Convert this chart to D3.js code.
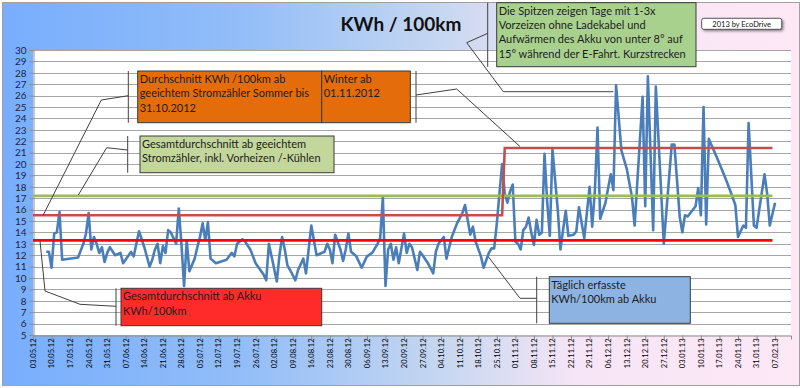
<!DOCTYPE html>
<html>
<head>
<meta charset="utf-8">
<script src="https://cdn.jsdelivr.net/npm/d3@7"></script>
<style>
  body { margin: 0; background: #fff; }
  svg { display: block; }
  text { font-family: Lato, "Noto Sans", sans-serif; }
</style>
</head>
<body>
<svg id="chart" width="800" height="388"></svg>
<script>
// ---- Daten ----
const tickLabels = [
  '03.05.12','10.05.12','17.05.12','24.05.12','31.05.12','07.06.12','14.06.12','21.06.12',
  '28.06.12','05.07.12','12.07.12','19.07.12','26.07.12','02.08.12','09.08.12','16.08.12',
  '23.08.12','30.08.12','06.09.12','13.09.12','20.09.12','27.09.12','04.10.12','11.10.12',
  '18.10.12','25.10.12','01.11.12','08.11.12','15.11.12','22.11.12','29.11.12','06.12.12',
  '13.12.12','20.12.12','27.12.12','03.01.13','10.01.13','17.01.13','24.01.13','31.01.13','07.02.13'
];
const yTicks = [5,6,7,8,9,10,11,12,13,14,15,16,17,18,19,20,21,22,23,24,25,26,27,28,29,30];

// täglich erfasste KWh/100km ab Akku
const dayDates = [
  '08.05.12','09.05.12','10.05.12','11.05.12','12.05.12','13.05.12','14.05.12','20.05.12',
  '22.05.12','23.05.12','24.05.12','25.05.12','26.05.12','27.05.12','28.05.12','29.05.12',
  '30.05.12','31.05.12','01.06.12','03.06.12','05.06.12','06.06.12','09.06.12','10.06.12',
  '12.06.12','14.06.12','16.06.12','17.06.12','18.06.12','19.06.12','20.06.12','21.06.12',
  '22.06.12','23.06.12','24.06.12','26.06.12','27.06.12','28.06.12','29.06.12','30.06.12',
  '01.07.12','03.07.12','04.07.12','05.07.12','06.07.12','07.07.12','08.07.12','09.07.12',
  '11.07.12','15.07.12','17.07.12','18.07.12','19.07.12','21.07.12','22.07.12','24.07.12',
  '26.07.12','29.07.12','30.07.12','31.07.12','01.08.12','03.08.12','04.08.12','05.08.12',
  '06.08.12','07.08.12','08.08.12','10.08.12','11.08.12','13.08.12','14.08.12','16.08.12',
  '17.08.12','18.08.12','21.08.12','22.08.12','23.08.12','24.08.12','25.08.12','27.08.12',
  '28.08.12','29.08.12','30.08.12','31.08.12','02.09.12','04.09.12','06.09.12','08.09.12',
  '10.09.12','11.09.12','12.09.12','13.09.12','14.09.12','15.09.12','16.09.12','17.09.12',
  '18.09.12','20.09.12','21.09.12','22.09.12','23.09.12','24.09.12','25.09.12','26.09.12',
  '27.09.12','29.09.12','01.10.12','02.10.12','03.10.12','05.10.12','06.10.12','08.10.12',
  '10.10.12','12.10.12','13.10.12','15.10.12','16.10.12','17.10.12','19.10.12','20.10.12',
  '22.10.12','23.10.12','24.10.12','25.10.12','26.10.12','27.10.12','28.10.12','29.10.12',
  '30.10.12','31.10.12','01.11.12','02.11.12','03.11.12','04.11.12','05.11.12','06.11.12',
  '07.11.12','08.11.12','09.11.12','10.11.12','11.11.12','12.11.12','13.11.12','14.11.12',
  '15.11.12','16.11.12','17.11.12','18.11.12','20.11.12','21.11.12','23.11.12','24.11.12',
  '25.11.12','27.11.12','29.11.12','30.11.12','01.12.12','02.12.12','03.12.12','05.12.12',
  '06.12.12','07.12.12','08.12.12','09.12.12','11.12.12','13.12.12','15.12.12','16.12.12',
  '19.12.12','20.12.12','21.12.12','23.12.12','24.12.12','27.12.12','30.12.12','31.12.12',
  '02.01.13','03.01.13','04.01.13','05.01.13','08.01.13','09.01.13','10.01.13','11.01.13',
  '12.01.13','13.01.13','16.01.13','19.01.13','21.01.13','23.01.13','24.01.13','26.01.13',
  '27.01.13','28.01.13','30.01.13','31.01.13','03.02.13','04.02.13','05.02.13','07.02.13'
];
const dayValues = [
  12.3,12.3,10.9,13.9,14.0,15.8,11.6,11.8,
  13.0,13.9,15.7,12.5,13.6,13.0,12.2,12.7,
  11.4,12.2,12.7,12.0,12.2,11.3,12.3,11.9,
  14.1,12.7,11.0,11.6,12.5,13.0,11.3,12.8,
  12.2,14.2,14.0,13.0,16.1,13.0,9.3,13.3,
  10.6,11.7,12.7,13.6,14.8,13.3,14.9,11.7,
  11.3,11.6,12.2,11.9,13.0,13.4,13.2,12.5,
  11.3,10.3,9.8,13.0,11.9,9.7,12.0,13.6,
  12.5,11.1,10.7,9.8,10.7,11.7,10.4,14.6,
  13.3,12.0,12.3,13.0,12.5,11.3,13.8,12.5,
  11.5,12.5,13.9,12.3,11.9,10.9,11.9,12.2,
  13.0,13.5,17.1,9.3,12.5,13.0,11.6,12.7,
  11.3,13.9,12.2,13.0,12.7,11.7,10.7,12.3,
  12.0,11.3,10.4,12.3,13.0,13.6,11.7,13.6,
  14.8,15.7,16.4,13.8,14.5,13.2,11.9,10.9,
  12.2,12.6,12.6,14.8,17.4,20.0,17.4,16.6,
  17.6,18.2,13.2,13.0,12.5,14.2,14.5,15.3,
  14.0,12.9,15.1,13.8,14.0,20.9,16.7,13.7,
  21.3,18.6,16.0,12.5,15.9,13.7,13.8,14.1,
  16.2,13.5,18.0,14.5,17.7,23.2,15.2,16.6,
  17.9,19.1,17.7,26.9,21.2,19.6,17.1,14.6,
  25.9,16.3,27.7,14.2,26.8,13.0,21.7,21.7,
  15.4,14.0,15.5,15.4,16.3,17.9,15.5,25.0,
  14.7,22.2,20.6,18.9,17.7,16.4,13.6,14.6,
  14.4,23.6,14.6,14.4,19.1,17.4,14.6,16.6
];

// Durchschnitt ab geeichtem Stromzähler: Sommer / Winter
const seasonDates = ['03.05.12','27.10.12','28.10.12','06.02.13'];
const seasonValues = [15.5, 15.5, 21.4, 21.4];
// Gesamtdurchschnitte
const avgDates = ['03.05.12','06.02.13'];
const avgMeterValues = [17.2, 17.2];
const avgBatteryValues = [13.3, 13.3];
const axisDates = ['03.05.12','13.02.13'];

// ---- Aufbau ----
const W = 800, H = 388;
const P = { left: 33, right: 791, top: 50, bottom: 335 };
const parse = d3.timeParse('%d.%m.%y');
const svg = d3.select('#chart');

const defs = svg.append('defs');
const grad = defs.append('linearGradient').attr('id', 'bg')
  .attr('x1', '0%').attr('y1', '0%').attr('x2', '100%').attr('y2', '0%');
[['0%','#78aefd'],['30%','#92bdf8'],['55%','#c6d7f0'],['72%','#f6e5f6'],['100%','#fde8f6']]
  .forEach(([o, c]) => grad.append('stop').attr('offset', o).attr('stop-color', c));
const sh = defs.append('filter').attr('id', 'shadow').attr('x', '-20%').attr('y', '-20%')
  .attr('width', '150%').attr('height', '170%');
sh.append('feDropShadow').attr('dx', 1.5).attr('dy', 1.5).attr('stdDeviation', 0.8)
  .attr('flood-color', '#000').attr('flood-opacity', 0.45);

svg.append('rect').attr('x', 2.5).attr('y', 2.5).attr('width', 797).attr('height', 383)
  .attr('fill', 'url(#bg)').attr('stroke', '#a0a0a0');
svg.append('rect').attr('x', P.left).attr('y', P.top)
  .attr('width', P.right - P.left).attr('height', P.bottom - P.top).attr('fill', '#fff');

const x = d3.scaleTime().domain(axisDates.map(parse)).range([P.left, P.right]);
const y = d3.scaleLinear().domain([5, 30]).range([P.bottom, P.top]);

// Gitterlinien
svg.append('g').selectAll('line').data(yTicks.slice(1)).join('line')
  .attr('x1', P.left).attr('x2', P.right)
  .attr('y1', d => Math.round(y(d)) + 0.5).attr('y2', d => Math.round(y(d)) + 0.5)
  .attr('stroke', '#a6a6a6').attr('stroke-width', 1);

// Y-Achse
const yAxis = svg.append('g').attr('transform', `translate(${P.left + 0.5},0)`)
  .call(d3.axisLeft(y).tickValues(yTicks).tickSize(4).tickPadding(3).tickFormat(d3.format('d')));
yAxis.select('.domain').attr('stroke', '#8c8c8c');
yAxis.selectAll('.tick line').attr('stroke', '#8c8c8c');
yAxis.selectAll('.tick text').attr('font-size', 10).attr('fill', '#1c2540')
  .attr('font-family', 'Lato, sans-serif');

// X-Achse
const xAxis = svg.append('g').attr('transform', `translate(0,${P.bottom + 0.5})`)
  .call(d3.axisBottom(x).tickValues(tickLabels.map(parse)).tickSize(4)
    .tickFormat(d3.timeFormat('%d.%m.%y')));
xAxis.select('.domain').attr('stroke', '#8c8c8c');
xAxis.selectAll('.tick line').attr('stroke', '#8c8c8c');
xAxis.selectAll('.tick text')
  .attr('font-size', 7.5).attr('fill', '#000').attr('font-family', 'Lato, sans-serif')
  .attr('transform', 'rotate(-90)').attr('text-anchor', 'end')
  .attr('x', -3).attr('y', 0).attr('dy', '0.32em');

// Tageswerte
const line = d3.line().x(d => x(d[0])).y(d => y(d[1]));
svg.append('path')
  .datum(dayDates.map((d, i) => [parse(d), dayValues[i]]))
  .attr('d', line).attr('fill', 'none').attr('stroke', '#4a7ebb')
  .attr('stroke-width', 2.6).attr('stroke-linejoin', 'round');

// Durchschnittslinien
function avgLine(dates, vals, color) {
  svg.append('path')
    .datum(dates.map((d, i) => [parse(d), vals[i]]))
    .attr('d', line).attr('fill', 'none').attr('stroke', color).attr('stroke-width', 2.6);
}
avgLine(avgDates, avgMeterValues, '#9bbb59');
avgLine(seasonDates, seasonValues, '#c0504d');
avgLine(avgDates, avgBatteryValues, '#ff0000');

// ---- Beschriftungen / Legenden-Callouts ----
const notes = [
  { x: 137.7, y: 71, w: 184, h: 51.7, fill: '#e46c0a',
    lines: ['Durchschnitt KWh /100km ab', 'geeichtem Stromzähler Sommer bis', '31.10.2012'],
    bar: 128.3, path: [[128.3, 95.7], [101.3, 100], [43, 215.5]] },
  { x: 321.7, y: 71, w: 88.6, h: 51.7, fill: '#e46c0a',
    lines: ['Winter ab', '01.11.2012'],
    bar: 416, path: [[416, 95], [456.7, 89], [520, 146.5]] },
  { x: 496.7, y: 2.7, w: 199.3, h: 64, fill: '#a9d18e',
    lines: ['Die Spitzen zeigen Tage mit 1-3x', 'Vorzeizen ohne Ladekabel und',
            'Aufwärmen des Akku von unter 8° auf', '15° während der E-Fahrt. Kurzstrecken'],
    bar: 487.7, path: [[487.7, 33.3], [466.7, 42.7], [503.3, 91.7], [613.3, 91.7]] },
  { x: 140, y: 136, w: 194, h: 36.7, fill: '#c3d69b',
    lines: ['Gesamtdurchschnitt ab geeichtem', 'Stromzähler, inkl. Vorheizen /-Kühlen'],
    bar: 127.7, path: [[127.7, 150], [106.7, 147.7], [78.3, 195]] },
  { x: 121, y: 288.3, w: 200.7, h: 37.4, fill: '#ff2b2b',
    lines: ['Gesamtdurchschnitt ab Akku', 'KWh/100km'],
    bar: 116, path: [[116, 306.3], [80, 304.3], [45, 291], [40, 241]] },
  { x: 549.3, y: 276.7, w: 141, h: 46.6, fill: '#8db3e2',
    lines: ['Täglich erfasste', 'KWh/100km ab Akku'],
    bar: 536.7, path: [[536.7, 298.3], [520, 298.3], [488.3, 256.7]] }
];

notes.forEach(n => {
  const g = svg.append('g');
  g.append('line').attr('x1', n.bar).attr('x2', n.bar).attr('y1', n.y).attr('y2', n.y + n.h)
    .attr('stroke', '#404040').attr('stroke-width', 1);
  g.append('path').attr('d', d3.line()(n.path)).attr('fill', 'none')
    .attr('stroke', '#404040').attr('stroke-width', 1);
  g.append('rect').attr('x', n.x).attr('y', n.y).attr('width', n.w).attr('height', n.h)
    .attr('fill', n.fill).attr('stroke', '#3a3a3a').attr('stroke-width', 1);
  n.lines.forEach((t, i) => {
    g.append('text').attr('x', n.x + 2).attr('y', n.y + 11.8 + i * 14.4)
      .attr('font-size', 11).attr('fill', '#1e1e1e').text(t);
  });
});

// Titel
svg.append('text').attr('x', 401).attr('y', 31).attr('text-anchor', 'middle')
  .attr('font-size', 19).attr('font-weight', 'bold').attr('fill', '#111')
  .text('KWh / 100km');

// Copyright-Kästchen
svg.append('rect').attr('x', 701.7).attr('y', 18.3).attr('width', 80).attr('height', 11)
  .attr('rx', 2).attr('fill', '#fff').attr('stroke', '#333').attr('stroke-width', 0.8)
  .attr('filter', 'url(#shadow)');
svg.append('text').attr('x', 741.7).attr('y', 26.6).attr('text-anchor', 'middle')
  .attr('font-size', 7.5).attr('fill', '#111').text('2013 by EcoDrive');
</script>
</body>
</html>
